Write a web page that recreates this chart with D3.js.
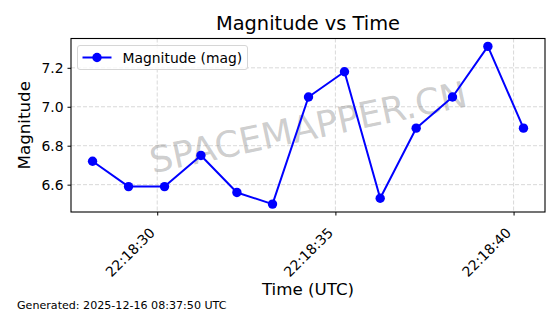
<!DOCTYPE html>
<html lang="en">
<head>
<meta charset="UTF-8">
<title>Magnitude vs Time</title>
<style>
  body { margin: 0; background: #fff; }
  svg { display: block; font-family: "DejaVu Sans", sans-serif; }
</style>
</head>
<body>
<script src="https://d3js.org/d3.v7.min.js"></script>
<script>
// observation times (UTC) and magnitudes
const times = ["22:18:28.185", "22:18:29.195", "22:18:30.205", "22:18:31.226", "22:18:32.236",
  "22:18:33.235", "22:18:34.245", "22:18:35.255", "22:18:36.257", "22:18:37.267",
  "22:18:38.286", "22:18:39.279", "22:18:40.278"];
const magnitudes = [6.72, 6.59, 6.59, 6.75, 6.56, 6.50, 7.05, 7.18, 6.53, 6.89, 7.05, 7.31, 6.89];
const yTicks = [6.6, 6.8, 7.0, 7.2];
const xTicks = ["22:18:30", "22:18:35", "22:18:40"];

const width = 560, height = 314;
const margin = { top: 38.5, right: 15, bottom: 102, left: 71 };

const parse = d3.utcParse("%Y-%m-%d %H:%M:%S.%L");
const parseTick = d3.utcParse("%Y-%m-%d %H:%M:%S");
const day = "2025-12-16 ";
const data = times.map((t, i) => ({ t: parse(day + t), m: magnitudes[i] }));

const svg = d3.select("body").append("svg")
  .attr("width", width)
  .attr("height", height);

const [t0, t1] = d3.extent(data, d => d.t);
const pad = (t1 - t0) * 0.05;
const x = d3.scaleUtc()
  .domain([new Date(+t0 - pad), new Date(+t1 + pad)])
  .range([margin.left, width - margin.right]);

const [m0, m1] = d3.extent(magnitudes);
const mp = (m1 - m0) * 0.05;
const y = d3.scaleLinear()
  .domain([m0 - mp, m1 + mp])
  .range([height - margin.bottom, margin.top]);

const tickDates = xTicks.map(s => parseTick(day + s));
const cx = (margin.left + width - margin.right) / 2;
const cy = (margin.top + height - margin.bottom) / 2;

// grid
const grid = svg.append("g")
  .attr("stroke", "#cfcfcf")
  .attr("stroke-width", 0.8)
  .attr("stroke-dasharray", "4,2");
grid.selectAll(".gx").data(tickDates).enter().append("line")
  .attr("x1", d => x(d)).attr("x2", d => x(d))
  .attr("y1", margin.top).attr("y2", height - margin.bottom);
grid.selectAll(".gy").data(yTicks).enter().append("line")
  .attr("x1", margin.left).attr("x2", width - margin.right)
  .attr("y1", d => y(d)).attr("y2", d => y(d));

// watermark
svg.append("text")
  .attr("transform", "translate(" + cx + "," + (cy + 1.5) + ") rotate(-12)")
  .attr("text-anchor", "middle")
  .attr("dy", "0.365em")
  .attr("fill", "#808080")
  .attr("fill-opacity", 0.4)
  .style("font-size", "36px")
  .text("SPACEMAPPER.CN");

// axes
const xAxis = d3.axisBottom(x)
  .tickValues(tickDates)
  .tickFormat(d3.utcFormat("%H:%M:%S"))
  .tickSize(3.5)
  .tickPadding(3);
const gx = svg.append("g")
  .attr("transform", "translate(0," + (height - margin.bottom) + ")")
  .call(xAxis)
  .attr("font-family", "DejaVu Sans");
gx.select(".domain").remove();
gx.selectAll("line").attr("stroke", "#000").attr("stroke-width", 1);
gx.selectAll("text")
  .style("font-size", "13.9px")
  .attr("fill", "#000")
  .attr("text-anchor", "end")
  .attr("dy", 0)
  .attr("x", 0)
  .attr("y", 0)
  .attr("transform", "translate(-2,21.7) rotate(-45)");

const yAxis = d3.axisLeft(y)
  .tickValues(yTicks)
  .tickFormat(d3.format(".1f"))
  .tickSize(3.5)
  .tickPadding(4);
const gy = svg.append("g")
  .attr("transform", "translate(" + margin.left + ",0)")
  .call(yAxis)
  .attr("font-family", "DejaVu Sans");
gy.select(".domain").remove();
gy.selectAll("line").attr("stroke", "#000").attr("stroke-width", 1);
gy.selectAll("text").style("font-size", "13.9px").attr("fill", "#000");

// line and markers
const line = d3.line().x(d => x(d.t)).y(d => y(d.m));
svg.append("path")
  .datum(data)
  .attr("fill", "none")
  .attr("stroke", "#0000ff")
  .attr("stroke-width", 2)
  .attr("stroke-linejoin", "round")
  .attr("d", line);
svg.selectAll(".dot").data(data).enter().append("circle")
  .attr("cx", d => x(d.t))
  .attr("cy", d => y(d.m))
  .attr("r", 4.7)
  .attr("fill", "#0000ff");

// frame
svg.append("rect")
  .attr("x", margin.left).attr("y", margin.top)
  .attr("width", width - margin.left - margin.right)
  .attr("height", height - margin.top - margin.bottom)
  .attr("fill", "none")
  .attr("stroke", "#000")
  .attr("stroke-width", 1.1);

// legend
const lg = svg.append("g").attr("transform", "translate(77.5,45.5)");
lg.append("rect")
  .attr("width", 170).attr("height", 24)
  .attr("rx", 2.5)
  .attr("fill", "#fff").attr("fill-opacity", 0.8)
  .attr("stroke", "#d6d6d6");
lg.append("line")
  .attr("x1", 5).attr("x2", 34).attr("y1", 12).attr("y2", 12)
  .attr("stroke", "#0000ff").attr("stroke-width", 2);
lg.append("circle").attr("cx", 19.5).attr("cy", 12).attr("r", 4.7).attr("fill", "#0000ff");
lg.append("text")
  .attr("x", 45).attr("y", 17)
  .style("font-size", "13.9px")
  .text("Magnitude (mag)");

// titles
svg.append("text")
  .attr("x", cx)
  .attr("y", 30)
  .attr("text-anchor", "middle")
  .style("font-size", "19.4px")
  .text("Magnitude vs Time");

svg.append("text")
  .attr("x", cx)
  .attr("y", 294.5)
  .attr("text-anchor", "middle")
  .style("font-size", "16.7px")
  .text("Time (UTC)");

svg.append("text")
  .attr("transform", "translate(30," + cy + ") rotate(-90)")
  .attr("text-anchor", "middle")
  .style("font-size", "16.7px")
  .text("Magnitude");

svg.append("text")
  .attr("x", 17)
  .attr("y", 308.5)
  .style("font-size", "11.1px")
  .text("Generated: 2025-12-16 08:37:50 UTC");
</script>
</body>
</html>
